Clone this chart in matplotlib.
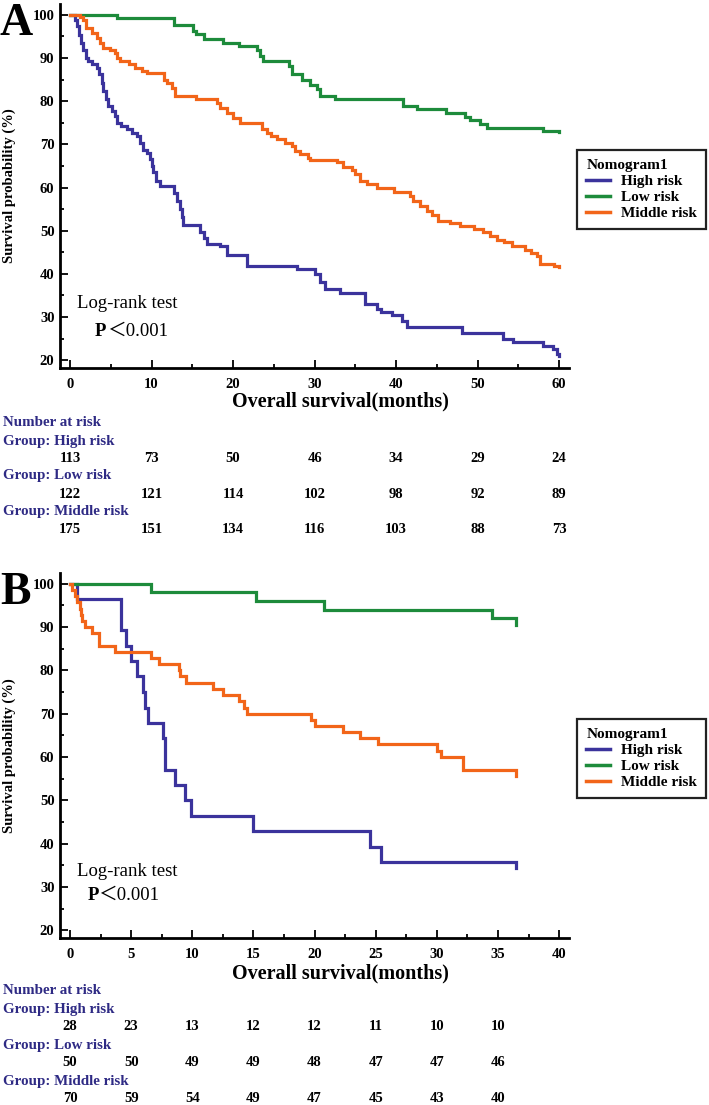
import matplotlib
matplotlib.use("Agg")
import matplotlib.pyplot as plt
from matplotlib.ticker import MultipleLocator
from matplotlib.transforms import blended_transform_factory

W, H = 709, 1105

plt.rcParams["font.family"] = ["Liberation Serif", "Noto Sans CJK SC"]
plt.rcParams["font.weight"] = "bold"

GROUPS = ["High risk", "Low risk", "Middle risk"]
COLORS = {"High risk": "#3b339c", "Low risk": "#1d8b3b", "Middle risk": "#f26519"}
NAVY = "#2e2a84"

# ---- panel A (training) ----
A_HIGH_T = [0, 0.6, 0.9, 1.1, 1.35, 1.6, 2.0, 2.2, 2.7, 3.3, 3.6, 3.9, 4.1, 4.4, 4.7, 5.1, 5.5,
            5.7, 6.3, 7.0, 7.6, 8.2, 8.6, 9.0, 9.4, 9.8, 10.0, 10.2, 10.6, 11.0, 12.7, 13.1, 13.5,
            13.7, 13.9, 16.0, 16.4, 16.8, 18.4, 19.2, 21.7, 27.8, 30.1, 30.7, 31.3, 33.1, 36.2,
            37.6, 38.2, 39.5, 40.7, 41.3, 48.1, 53.1, 54.3, 58.0, 59.2, 59.7, 60.0]
A_HIGH_S = [100, 98.8, 97.3, 95.4, 93.5, 91.9, 90.0, 89.2, 88.5, 87.7, 86.2, 84.2, 82.3, 80.4,
            78.8, 77.7, 76.5, 75.0, 74.2, 73.5, 72.7, 71.9, 70.4, 68.8, 67.9, 66.5, 65.0, 63.5,
            61.5, 60.4, 58.8, 56.9, 55.0, 53.1, 51.3, 49.6, 48.2, 46.9, 46.4, 44.4, 41.9, 41.2,
            40.0, 38.1, 36.5, 35.6, 33.1, 31.9, 31.2, 30.4, 29.2, 27.7, 26.2, 25.0, 24.2, 23.3,
            22.5, 21.5, 21.0]
A_LOW_T = [0, 5.7, 12.7, 15.1, 15.5, 16.4, 18.8, 20.7, 22.9, 23.3, 23.7, 26.8, 27.2, 28.4, 29.4,
           30.3, 30.7, 32.5, 40.8, 42.5, 46.1, 48.5, 49.1, 50.3, 51.2, 58.0, 60.0]
A_LOW_S = [100, 99.2, 97.7, 96.2, 95.5, 94.3, 93.5, 92.7, 91.9, 90.4, 89.4, 88.1, 86.2, 85.0, 83.8,
           82.7, 81.3, 80.5, 78.8, 78.1, 77.2, 76.4, 75.6, 74.6, 73.8, 73.1, 72.8]
A_MID_T = [0, 1.2, 1.6, 2.0, 2.7, 3.3, 3.7, 4.1, 4.9, 5.5, 5.7, 6.1, 7.2, 8.0, 8.8, 9.4, 11.5, 11.9,
           12.5, 12.9, 15.5, 18.0, 18.4, 19.2, 20.0, 20.9, 23.5, 24.1, 24.7, 25.4, 26.4, 27.2,
           27.6, 28.2, 29.2, 29.4, 32.7, 33.5, 34.6, 35.0, 35.6, 36.4, 37.6, 39.7, 41.7, 42.1,
           42.9, 43.8, 44.4, 45.1, 46.6, 47.8, 49.5, 50.7, 51.5, 52.4, 53.2, 54.2, 55.8, 56.6,
           57.3, 57.6, 59.4, 60.0]
A_MID_S = [100, 99.4, 98.8, 96.9, 95.8, 94.6, 93.5, 92.3, 91.9, 91.2, 90.0, 89.2, 88.5, 87.7, 86.9,
           86.5, 85.0, 84.2, 83.1, 81.2, 80.4, 79.6, 78.5, 77.3, 76.2, 75.0, 73.5, 72.7, 71.9,
           71.2, 70.4, 69.6, 68.5, 67.7, 66.9, 66.4, 65.8, 64.8, 64.1, 63.1, 61.5, 60.8, 59.8,
           59.0, 58.1, 56.9, 55.8, 54.6, 53.6, 52.3, 51.8, 51.2, 50.5, 49.8, 48.7, 47.9, 47.3,
           46.5, 45.6, 44.8, 44.1, 42.3, 41.9, 41.5]
A_RISK_TIMES = [0, 10, 20, 30, 40, 50, 60]
A_RISK_HIGH = [113, 73, 50, 46, 34, 29, 24]
A_RISK_LOW = [122, 121, 114, 102, 98, 92, 89]
A_RISK_MID = [175, 151, 134, 116, 103, 88, 73]

# ---- panel B (validation) ----
B_HIGH_T = [0, 0.55, 4.2, 4.6, 5.0, 5.45, 6.0, 6.1, 6.4, 7.6, 7.8, 8.6, 9.4, 9.9, 15.0, 24.5,
            25.4, 36.5, 36.5]
B_HIGH_S = [100, 96.4, 89.3, 85.7, 82.1, 78.6, 75.0, 71.4, 67.9, 64.3, 57.1, 53.6, 50.0, 46.4,
            42.9, 39.3, 35.7, 35.7, 34.4]
B_LOW_T = [0, 6.6, 15.2, 20.8, 34.5, 36.5, 36.5]
B_LOW_S = [100, 98.0, 96.0, 94.0, 92.0, 92.0, 90.6]
B_MID_T = [0, 0.2, 0.4, 0.6, 0.8, 0.9, 1.0, 1.2, 1.8, 2.4, 3.7, 6.6, 7.3, 8.9, 9.0, 9.5, 11.7,
           12.5, 13.8, 14.2, 14.5, 19.7, 20.0, 22.3, 23.7, 25.2, 30.0, 30.3, 32.1, 36.5, 36.5]
B_MID_S = [100, 98.6, 97.1, 95.7, 94.3, 92.9, 91.4, 90.0, 88.6, 85.7, 84.3, 82.9, 81.4, 80.0,
           78.6, 77.1, 75.7, 74.3, 72.9, 71.4, 70.0, 68.6, 67.1, 65.7, 64.3, 62.9, 61.4, 60.0,
           57.1, 57.1, 55.7]
B_RISK_TIMES = [0, 5, 10, 15, 20, 25, 30, 35]
B_RISK_HIGH = [28, 23, 13, 12, 12, 11, 10, 10]
B_RISK_LOW = [50, 50, 49, 49, 48, 47, 47, 46]
B_RISK_MID = [70, 59, 54, 49, 47, 45, 43, 40]


def fx(px):
    return px / W


def fy(py):
    return 1 - py / H


def draw_panel(fig, top, bottom, curves, xlim, xmajor, risk_times, risk, letter, rows, logrank):
    ax = fig.add_axes([fx(60), fy(bottom), fx(509), (bottom - top) / H])
    for g in GROUPS:
        t, s = curves[g]
        ax.plot(t, s, drawstyle="steps-post", color=COLORS[g], lw=2.3, label=g,
                solid_joinstyle="miter")
    for side in ("top", "right"):
        ax.spines[side].set_visible(False)
    for side in ("left", "bottom"):
        ax.spines[side].set_linewidth(2.0)
    ax.xaxis.set_major_locator(MultipleLocator(xmajor))
    ax.xaxis.set_minor_locator(MultipleLocator(xmajor / 2))
    ax.yaxis.set_major_locator(MultipleLocator(10))
    ax.yaxis.set_minor_locator(MultipleLocator(5))
    ax.set_xlim(*xlim)
    ax.set_ylim(18.2, 102.5)
    ax.tick_params(which="both", direction="in", width=1.3, labelsize=10.5)
    ax.tick_params(which="major", length=6)
    ax.tick_params(which="minor", length=3)
    ax.tick_params(axis="x", pad=7)
    ax.tick_params(axis="y", pad=4)

    fig.text(fx(9), fy((top + bottom) / 2), "Survival probability (%)", rotation=90,
             ha="center", va="center", fontsize=10.5)
    fig.text(fx(0), fy(top + 31), letter, fontsize=33, ha="left", va="baseline")
    fig.text(fx(77), fy(logrank[0]), "Log-rank test", fontsize=13.5, weight="normal",
             ha="left", va="center")
    fig.text(fx(logrank[2]), fy(logrank[1]), "P", fontsize=13.5, ha="left", va="center")
    fig.text(fx(logrank[3]), fy(logrank[1]), "\uff1c0.001", fontsize=13.5, weight="normal",
             ha="left", va="center")

    fig.text(fx(340), fy(bottom + rows[0]), "Overall survival(months)", fontsize=14.5,
             ha="center", va="center")
    fig.text(fx(3), fy(bottom + rows[1]), "Number at risk", fontsize=10.8, color=NAVY,
             ha="left", va="center")
    tr = blended_transform_factory(ax.transData, fig.transFigure)
    for i, g in enumerate(GROUPS):
        fig.text(fx(3), fy(bottom + rows[2 + 2 * i]), "Group: " + g, fontsize=10.8, color=NAVY,
                 ha="left", va="center")
        for t, n in zip(risk_times, risk[g]):
            ax.text(t, fy(bottom + rows[3 + 2 * i]), str(n), transform=tr, fontsize=10.5,
                    ha="center", va="center", clip_on=False)

    leg = ax.legend(loc="upper left", bbox_to_anchor=(fx(577), fy(top + 146)),
                    bbox_transform=fig.transFigure, title="Nomogram1", fontsize=11,
                    title_fontsize=11, alignment="left", fancybox=False, framealpha=1,
                    edgecolor="#222222", handlelength=1.55, handletextpad=0.7,
                    labelspacing=0.15, borderpad=0.6, borderaxespad=0)
    leg.get_frame().set_linewidth(1.6)
    for line in leg.get_lines():
        line.set_linewidth(2.5)
    return ax


fig = plt.figure(figsize=(W / 100, H / 100), dpi=100)

draw_panel(
    fig, 4, 368,
    {"High risk": (A_HIGH_T, A_HIGH_S), "Low risk": (A_LOW_T, A_LOW_S),
     "Middle risk": (A_MID_T, A_MID_S)},
    (-1.23, 61.2), 10, A_RISK_TIMES,
    {"High risk": A_RISK_HIGH, "Low risk": A_RISK_LOW, "Middle risk": A_RISK_MID},
    "A", [33, 55, 73, 90, 108, 126, 144, 161], (303, 331, 95, 107),
)
draw_panel(
    fig, 573, 938,
    {"High risk": (B_HIGH_T, B_HIGH_S), "Low risk": (B_LOW_T, B_LOW_S),
     "Middle risk": (B_MID_T, B_MID_S)},
    (-0.82, 40.8), 5, B_RISK_TIMES,
    {"High risk": B_RISK_HIGH, "Low risk": B_RISK_LOW, "Middle risk": B_RISK_MID},
    "B", [35, 53, 71, 89, 107, 125, 143, 161], (872, 895, 88, 98),
)

fig.savefig("out.png", dpi=100)
